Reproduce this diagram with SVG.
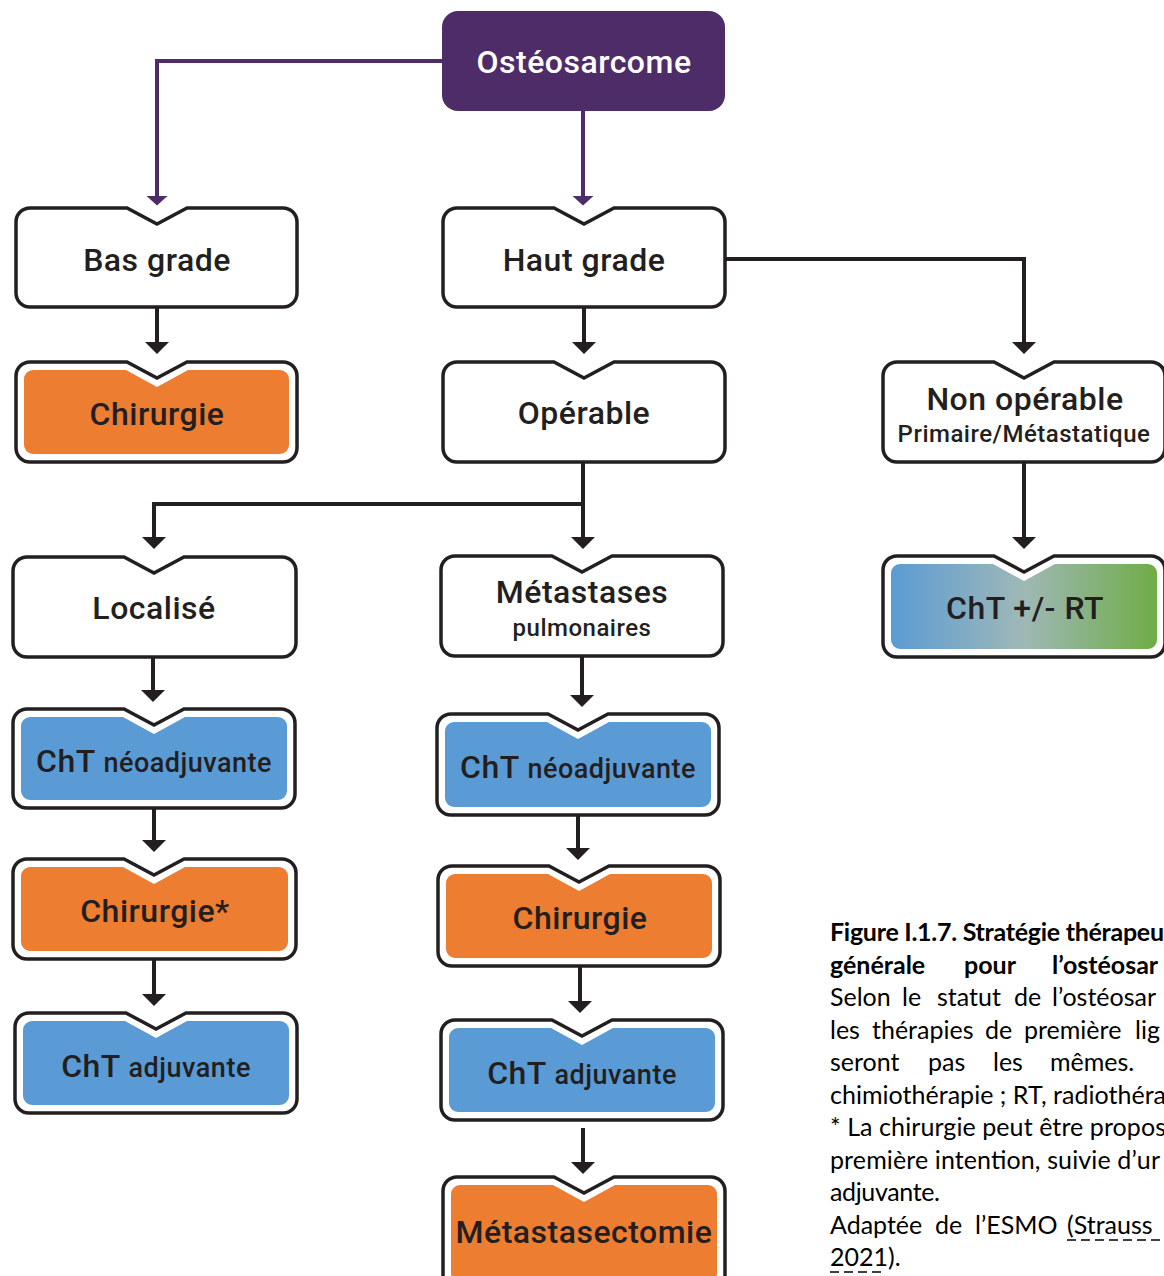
<svg xmlns="http://www.w3.org/2000/svg" width="1164" height="1276" viewBox="0 0 1164 1276">
<style>
.box{fill:#fff;stroke:#231f20;stroke-width:3.5}
.orange{fill:#ed7d31}
.blue{fill:#5b9bd5}
.grad{fill:url(#g1)}
.lbl{font-family:Roboto,"DejaVu Sans",sans-serif;font-weight:500;fill:#231f20;text-anchor:middle;font-size:32px;letter-spacing:0.5px}
.sm{font-size:27px}
.sub{font-size:24px}
.con{fill:none;stroke:#231f20;stroke-width:4}
.pcon{fill:none;stroke:#4e2c68;stroke-width:4}
.cap{font-family:Lato,"Liberation Sans",sans-serif;font-size:25px;fill:#000}
.b{font-weight:bold}
.ul{stroke:#000;stroke-width:1.6;stroke-dasharray:9 5}
</style>
<defs>
<marker id="ah" viewBox="0 0 12 24" refX="1" refY="12" markerWidth="12" markerHeight="24" markerUnits="userSpaceOnUse" orient="auto"><path d="M0,0 L12,12 L0,24 Z" fill="#231f20"/></marker>
<marker id="ahp" viewBox="0 0 10 22" refX="0.5" refY="11" markerWidth="10" markerHeight="22" markerUnits="userSpaceOnUse" orient="auto"><path d="M0,0 L10,11 L0,22 Z" fill="#4e2c68"/></marker>
<linearGradient id="g1" x1="0" y1="0" x2="1" y2="0">
<stop offset="0" stop-color="#5b9bd5"/>
<stop offset="0.5" stop-color="#9fb8b6"/>
<stop offset="1" stop-color="#6fac46"/>
</linearGradient>
</defs>

<g id="connectors">
<path class="pcon" d="M442,61 H157 V196" marker-end="url(#ahp)"/>
<path class="pcon" d="M583,111 V196" marker-end="url(#ahp)"/>
<path class="con" d="M157,307 V343" marker-end="url(#ah)"/>
<path class="con" d="M584,307 V343" marker-end="url(#ah)"/>
<path class="con" d="M725,259 H1024 V343" marker-end="url(#ah)"/>
<path class="con" d="M583,462 V538" marker-end="url(#ah)"/>
<path class="con" d="M585,504 H154 V538" marker-end="url(#ah)"/>
<path class="con" d="M1024,462 V538" marker-end="url(#ah)"/>
<path class="con" d="M153,657 V691" marker-end="url(#ah)"/>
<path class="con" d="M154,808 V841" marker-end="url(#ah)"/>
<path class="con" d="M154,959 V995" marker-end="url(#ah)"/>
<path class="con" d="M582,656 V696" marker-end="url(#ah)"/>
<path class="con" d="M578,815 V849" marker-end="url(#ah)"/>
<path class="con" d="M580,966 V1002" marker-end="url(#ah)"/>
<path class="con" d="M583,1128 V1163" marker-end="url(#ah)"/>
</g>

<g id="osteosarcome">
<rect x="442" y="11" width="283" height="100" rx="16" fill="#4e2c68"/>
<text class="lbl" x="584" y="73" style="fill:#fff">Ostéosarcome</text>
</g>

<g id="bas-grade">
<path class="box" d="M30,208 H127 L157,224 L187,208 H283 A14,14 0 0 1 297,222 V293 A14,14 0 0 1 283,307 H30 A14,14 0 0 1 16,293 V222 A14,14 0 0 1 30,208 Z"/>
<text class="lbl" x="157" y="271">Bas grade</text>
</g>

<g id="chirurgie-bas">
<path class="box" d="M30,362 H127 L157,378 L187,362 H283 A14,14 0 0 1 297,376 V448 A14,14 0 0 1 283,462 H30 A14,14 0 0 1 16,448 V376 A14,14 0 0 1 30,362 Z"/>
<path class="orange" d="M33,370 H126 L157,387 L188,370 H280 A9,9 0 0 1 289,379 V445 A9,9 0 0 1 280,454 H33 A9,9 0 0 1 24,445 V379 A9,9 0 0 1 33,370 Z"/>
<text class="lbl" x="157" y="425">Chirurgie</text>
</g>

<g id="haut-grade">
<path class="box" d="M457,208 H554 L584,224 L614,208 H711 A14,14 0 0 1 725,222 V293 A14,14 0 0 1 711,307 H457 A14,14 0 0 1 443,293 V222 A14,14 0 0 1 457,208 Z"/>
<text class="lbl" x="584" y="271">Haut grade</text>
</g>

<g id="operable">
<path class="box" d="M457,362 H554 L584,378 L614,362 H711 A14,14 0 0 1 725,376 V448 A14,14 0 0 1 711,462 H457 A14,14 0 0 1 443,448 V376 A14,14 0 0 1 457,362 Z"/>
<text class="lbl" x="584" y="424">Opérable</text>
</g>

<g id="non-operable">
<path class="box" d="M897,362 H994 L1024,378 L1054,362 H1151 A14,14 0 0 1 1165,376 V448 A14,14 0 0 1 1151,462 H897 A14,14 0 0 1 883,448 V376 A14,14 0 0 1 897,362 Z"/>
<text class="lbl" x="1025" y="410">Non opérable</text>
<text class="lbl sub" x="1024" y="442">Primaire/Métastatique</text>
</g>

<g id="localise">
<path class="box" d="M27,557 H124 L154,573 L184,557 H282 A14,14 0 0 1 296,571 V643 A14,14 0 0 1 282,657 H27 A14,14 0 0 1 13,643 V571 A14,14 0 0 1 27,557 Z"/>
<text class="lbl" x="154" y="619">Localisé</text>
</g>

<g id="metastases">
<path class="box" d="M455,556 H552 L582,572 L612,556 H709 A14,14 0 0 1 723,570 V642 A14,14 0 0 1 709,656 H455 A14,14 0 0 1 441,642 V570 A14,14 0 0 1 455,556 Z"/>
<text class="lbl" x="582" y="603">Métastases</text>
<text class="lbl sub" x="582" y="636">pulmonaires</text>
</g>

<g id="cht-rt">
<path class="box" d="M897,556 H994 L1024,572 L1054,556 H1151 A14,14 0 0 1 1165,570 V643 A14,14 0 0 1 1151,657 H897 A14,14 0 0 1 883,643 V570 A14,14 0 0 1 897,556 Z"/>
<path class="grad" d="M900,564 H993 L1024,581 L1055,564 H1148 A9,9 0 0 1 1157,573 V640 A9,9 0 0 1 1148,649 H900 A9,9 0 0 1 891,640 V573 A9,9 0 0 1 900,564 Z"/>
<text class="lbl" x="1025" y="619">ChT +/- RT</text>
</g>

<g id="cht-neo-loc">
<path class="box" d="M27,709 H124 L154,725 L184,709 H281 A14,14 0 0 1 295,723 V794 A14,14 0 0 1 281,808 H27 A14,14 0 0 1 13,794 V723 A14,14 0 0 1 27,709 Z"/>
<path class="blue" d="M30,717 H123 L154,734 L185,717 H278 A9,9 0 0 1 287,726 V791 A9,9 0 0 1 278,800 H30 A9,9 0 0 1 21,791 V726 A9,9 0 0 1 30,717 Z"/>
<text class="lbl" x="154" y="772">ChT <tspan class="sm">néoadjuvante</tspan></text>
</g>

<g id="chirurgie-loc">
<path class="box" d="M27,859 H124 L154,875 L184,859 H282 A14,14 0 0 1 296,873 V945 A14,14 0 0 1 282,959 H27 A14,14 0 0 1 13,945 V873 A14,14 0 0 1 27,859 Z"/>
<path class="orange" d="M30,867 H123 L154,884 L185,867 H279 A9,9 0 0 1 288,876 V942 A9,9 0 0 1 279,951 H30 A9,9 0 0 1 21,942 V876 A9,9 0 0 1 30,867 Z"/>
<text class="lbl" x="155" y="922">Chirurgie*</text>
</g>

<g id="cht-adj-loc">
<path class="box" d="M29,1013 H126 L156,1029 L186,1013 H283 A14,14 0 0 1 297,1027 V1099 A14,14 0 0 1 283,1113 H29 A14,14 0 0 1 15,1099 V1027 A14,14 0 0 1 29,1013 Z"/>
<path class="blue" d="M32,1021 H125 L156,1038 L187,1021 H280 A9,9 0 0 1 289,1030 V1096 A9,9 0 0 1 280,1105 H32 A9,9 0 0 1 23,1096 V1030 A9,9 0 0 1 32,1021 Z"/>
<text class="lbl" x="156" y="1077">ChT <tspan class="sm">adjuvante</tspan></text>
</g>

<g id="cht-neo-met">
<path class="box" d="M451,714 H548 L578,730 L608,714 H705 A14,14 0 0 1 719,728 V801 A14,14 0 0 1 705,815 H451 A14,14 0 0 1 437,801 V728 A14,14 0 0 1 451,714 Z"/>
<path class="blue" d="M454,722 H547 L578,739 L609,722 H702 A9,9 0 0 1 711,731 V798 A9,9 0 0 1 702,807 H454 A9,9 0 0 1 445,798 V731 A9,9 0 0 1 454,722 Z"/>
<text class="lbl" x="578" y="778">ChT <tspan class="sm">néoadjuvante</tspan></text>
</g>

<g id="chirurgie-met">
<path class="box" d="M452,866 H549 L579,882 L609,866 H706 A14,14 0 0 1 720,880 V952 A14,14 0 0 1 706,966 H452 A14,14 0 0 1 438,952 V880 A14,14 0 0 1 452,866 Z"/>
<path class="orange" d="M455,874 H548 L579,891 L610,874 H703 A9,9 0 0 1 712,883 V949 A9,9 0 0 1 703,958 H455 A9,9 0 0 1 446,949 V883 A9,9 0 0 1 455,874 Z"/>
<text class="lbl" x="580" y="929">Chirurgie</text>
</g>

<g id="cht-adj-met">
<path class="box" d="M455,1020 H552 L582,1036 L612,1020 H709 A14,14 0 0 1 723,1034 V1106 A14,14 0 0 1 709,1120 H455 A14,14 0 0 1 441,1106 V1034 A14,14 0 0 1 455,1020 Z"/>
<path class="blue" d="M458,1028 H551 L582,1045 L613,1028 H706 A9,9 0 0 1 715,1037 V1103 A9,9 0 0 1 706,1112 H458 A9,9 0 0 1 449,1103 V1037 A9,9 0 0 1 458,1028 Z"/>
<text class="lbl" x="582" y="1084">ChT <tspan class="sm">adjuvante</tspan></text>
</g>

<g id="metastasectomie">
<path class="box" d="M457,1177 H554 L584,1193 L614,1177 H711 A14,14 0 0 1 725,1191 V1276 A14,14 0 0 1 711,1290 H457 A14,14 0 0 1 443,1276 V1191 A14,14 0 0 1 457,1177 Z"/>
<path class="orange" d="M460,1185 H553 L584,1202 L615,1185 H708 A9,9 0 0 1 717,1194 V1273 A9,9 0 0 1 708,1282 H460 A9,9 0 0 1 451,1273 V1194 A9,9 0 0 1 460,1185 Z"/>
<text class="lbl" x="584" y="1243">Métastasectomie</text>
</g>

<g id="caption">
<text class="cap b" x="830" y="941" textLength="334">Figure I.1.7. Stratégie thérapeu</text>
<text class="cap b" y="974"><tspan x="830">générale</tspan><tspan x="964">pour</tspan><tspan x="1052">l’ostéosar</tspan></text>
<text class="cap" y="1006"><tspan x="830">Selon</tspan><tspan x="902">le</tspan><tspan x="937">statut</tspan><tspan x="1014">de</tspan><tspan x="1052">l’ostéosar</tspan></text>
<text class="cap" y="1039"><tspan x="830">les</tspan><tspan x="872">thérapies</tspan><tspan x="985">de</tspan><tspan x="1024">première</tspan><tspan x="1135">lig</tspan></text>
<text class="cap" y="1071"><tspan x="830">seront</tspan><tspan x="928">pas</tspan><tspan x="993">les</tspan><tspan x="1050">mêmes.</tspan></text>
<text class="cap" x="830" y="1104" textLength="336">chimiothérapie ; RT, radiothéra</text>
<text class="cap" x="830" y="1136" textLength="336">* La chirurgie peut être propos</text>
<text class="cap" x="830" y="1169" textLength="330">première intention, suivie d’ur</text>
<text class="cap" x="830" y="1201" textLength="110">adjuvante.</text>
<text class="cap" y="1234"><tspan x="830">Adaptée</tspan><tspan x="935">de</tspan><tspan x="975">l’ESMO</tspan><tspan x="1067">(Strauss</tspan></text>
<text class="cap" x="830" y="1266">2021).</text>
<path class="ul" d="M1067,1240 H1164 M830,1272 H884"/>
</g>
</svg>
